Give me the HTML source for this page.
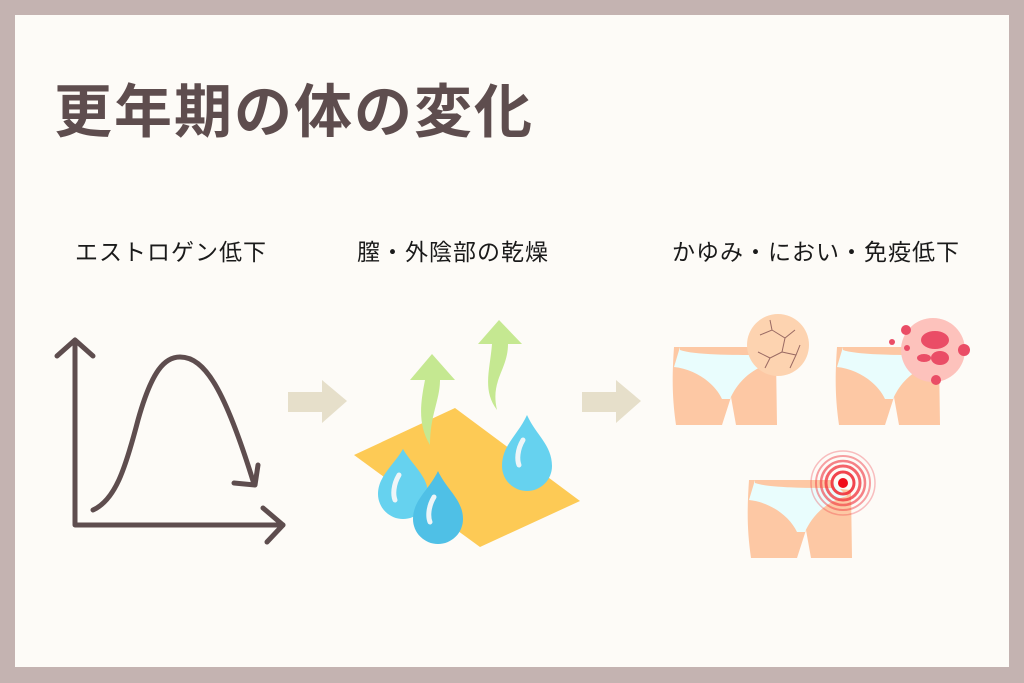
<!DOCTYPE html>
<html><head><meta charset="utf-8"><style>
html,body{margin:0;padding:0}
body{width:1024px;height:683px;background:#c4b3b1;position:relative;overflow:hidden;font-family:"Liberation Sans","Noto Sans CJK JP",sans-serif}
.inner{position:absolute;left:15px;top:15px;width:994px;height:652px;background:#fdfbf7}
.t{position:absolute;white-space:nowrap}
</style></head><body>
<div class="inner"></div>
<div class="t" style="left:54px;top:78px;font-size:58px;line-height:70px;font-weight:bold;color:#5e4d4e;letter-spacing:2px">更年期の体の変化</div>
<div class="t" style="left:75px;top:237px;font-size:23px;line-height:30px;color:#1a1a1a;letter-spacing:1px">エストロゲン低下</div>
<div class="t" style="left:357px;top:237px;font-size:23px;line-height:30px;color:#1a1a1a;letter-spacing:1px">膣・外陰部の乾燥</div>
<div class="t" style="left:672px;top:237px;font-size:23px;line-height:30px;color:#1a1a1a;letter-spacing:1px">かゆみ・におい・免疫低下</div>
<svg width="1024" height="683" style="position:absolute;left:0;top:0">
<g fill="none" stroke="#5e4d4e" stroke-width="5" stroke-linecap="round" stroke-linejoin="round">
<path d="M75 342 L75 525 L283 525"/>
<path d="M57 356 L75 340 L93 356"/>
<path d="M263 508 L283 525 L267 542"/>
<path d="M93 510 C115 500 125 470 138 420 C152 370 165 357 180 357 C205 357 225 390 254 484"/>
<path d="M234 483 L255 485 L258 465"/>
</g>
<g fill="#e6dfca">
<rect x="288" y="392" width="36" height="20"/><path d="M322 380 L347 401 L322 423Z"/>
<rect x="582" y="392" width="36" height="20"/><path d="M616 380 L641 401 L616 423Z"/>
</g>
<path d="M354 455 L455 408 L580 501 L480 547Z" fill="#fdca55"/>
<g fill="#c5e891">
<path d="M410 380 L432 354 L455 380 L440 380 C440 400 430 415 430 445 C418 425 420 405 425 380Z"/>
<path d="M478 344 L499 320 L522 344 L508 344 C508 370 490 380 497 410 C482 390 490 370 492 344Z"/>
</g>
<g>
<path d="M403 449 C394 465 378 476 378 494 A25 25 0 0 0 428 494 C428 476 412 465 403 449Z" fill="#66d2ef"/>
<path d="M438 471 C429 490 413 500 413 519 A25 25 0 0 0 463 519 C463 500 447 490 438 471Z" fill="#4fc0e6"/>
<path d="M527 415 C518 435 502 445 502 466 A25 25 0 0 0 552 466 C552 445 536 435 527 415Z" fill="#66d2ef"/>
<g stroke="#eef5f8" stroke-width="5" stroke-linecap="round" fill="none">
<path d="M399 475 C393 485 393 495 395 500"/><path d="M434 497 C428 507 428 517 430 522"/><path d="M523 440 C517 450 517 460 519 465"/>
</g>
</g>
<defs>
<g id="fig">
<path d="M0 0 L70 0 L82 8 L102 10 L103 78 L62 78 L57 50 L48 78 L2 78 C-2 50 -2 30 0 0Z" fill="#fdc8a4"/>
<path d="M6 0 L82 0 L98 16 C75 22 62 38 56 52 L48 52 C40 35 20 22 0 20 Z" fill="#e9fdfd"/>
<path d="M6 0 L82 0 L84 8 C60 8 20 8 6 3Z" fill="#fdc8a4"/>
</g>
</defs>
<use href="#fig" x="674" y="347"/>
<use href="#fig" x="837" y="347"/>
<use href="#fig" x="749" y="480"/>
<circle cx="778" cy="345" r="31" fill="#fdd3b0"/>
<g stroke="#9a6a63" stroke-width="1" fill="none">
<path d="M760 335 L772 330 L785 338 L795 330 M772 330 L770 320 M785 338 L782 352 L770 358 L765 368 M782 352 L796 355 L800 345 M770 358 L758 352 M796 355 L790 368"/>
</g>
<circle cx="933" cy="350" r="32" fill="#fdc2bc"/>
<g fill="#ea4d66">
<ellipse cx="935" cy="340" rx="14" ry="9"/><ellipse cx="940" cy="358" rx="9" ry="7"/><ellipse cx="924" cy="358" rx="7" ry="4"/>
<circle cx="906" cy="330" r="5"/><circle cx="892" cy="342" r="3"/><circle cx="907" cy="348" r="3"/><circle cx="964" cy="350" r="6"/><circle cx="936" cy="380" r="5"/>
</g>
<g fill="none" stroke="#f0303a">
<circle cx="843" cy="483" r="32" stroke-width="1.5" opacity="0.3"/>
<circle cx="843" cy="483" r="27" stroke-width="2" opacity="0.45"/>
<circle cx="843" cy="483" r="22" stroke-width="2.5" opacity="0.6"/>
<circle cx="843" cy="483" r="17" stroke-width="3" opacity="0.75"/>
<circle cx="843" cy="483" r="11" stroke-width="3" opacity="0.9"/>
</g>
<circle cx="843" cy="483" r="5" fill="#f00d1a"/>
</svg>
</body></html>
